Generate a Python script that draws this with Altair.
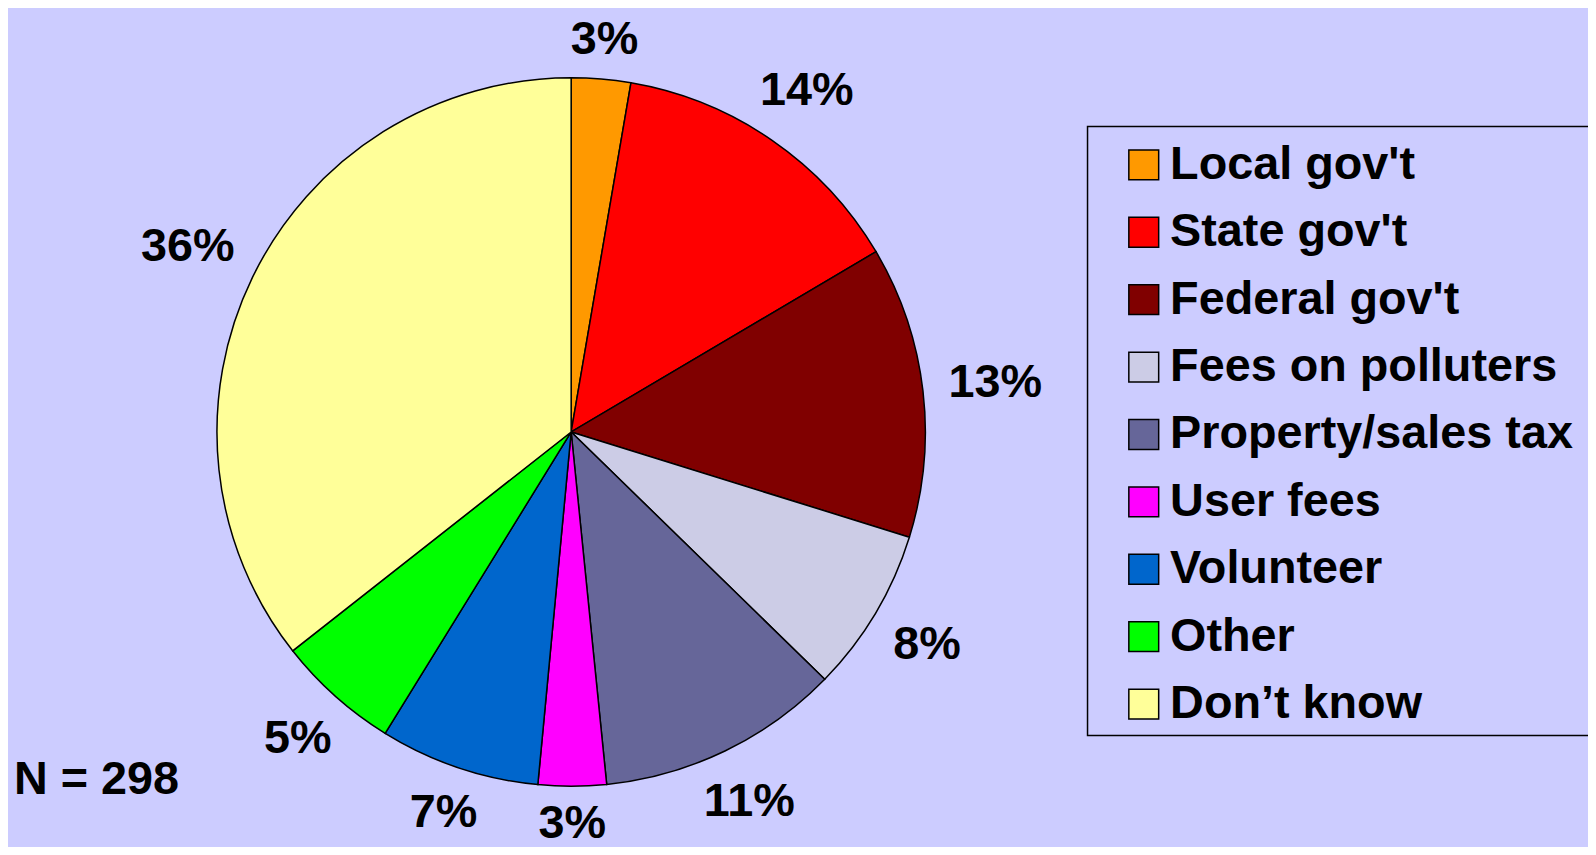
import altair as alt
import pandas as pd

categories = ["Local gov't", "State gov't", "Federal gov't", "Fees on polluters",
              "Property/sales tax", "User fees", "Volunteer", "Other", "Don\u2019t know"]
values = [2.7, 13.8, 13.3, 7.5, 11.1, 3.1, 7.3, 5.6, 35.6]
labels = ["3%", "14%", "13%", "8%", "11%", "3%", "7%", "5%", "36%"]
colors = ["#FF9900", "#FF0000", "#800000", "#CCCCE6", "#666699",
          "#FF00FF", "#0066CC", "#00FF00", "#FFFF99"]
n_text = "N = 298"

df = pd.DataFrame({"category": categories, "value": values,
                   "label": labels, "order": list(range(len(categories)))})

FONT = "Liberation Sans"
CX, CY, R = 566, 424, 356

color = alt.Color("category:N", sort=categories,
                  scale=alt.Scale(domain=categories, range=colors),
                  legend=alt.Legend(orient="none", legendX=1079, legendY=119, title=None,
                                    symbolType="square", symbolSize=900,
                                    symbolStrokeColor="black", symbolStrokeWidth=1.5,
                                    labelFontSize=47, labelFont=FONT, labelFontWeight="bold",
                                    labelColor="black", rowPadding=19.75, padding=13,
                                    symbolOffset=26, labelOffset=3, labelLimit=600))

base = alt.Chart(df)

pie = base.mark_arc(radius=R, stroke="black", strokeWidth=1.5).encode(
    theta=alt.Theta("value:Q", stack=True),
    color=color,
    order=alt.Order("order:Q"),
    x=alt.value(CX), y=alt.value(CY),
)

text = base.transform_joinaggregate(
    total="sum(value)"
).transform_window(
    cum="sum(value)", sort=[{"field": "order"}], frame=[None, 0]
).transform_calculate(
    mid="(datum.cum - datum.value/2) / datum.total * 2 * PI"
).transform_calculate(
    r="381 + (length(datum.label) < 3 ? 34 : 47) * abs(sin(datum.mid)) + 12 * abs(cos(datum.mid))"
).mark_text(font=FONT, fontSize=47, fontWeight="bold", color="black",
            align="center", baseline="middle", dy=1).encode(
    theta=alt.Theta("mid:Q", scale=None),
    radius=alt.Radius("r:Q", scale=None),
    text="label:N",
    x=alt.value(CX), y=alt.value(CY),
)

box = alt.Chart(alt.Data(values=[{}])).mark_rect(
    fill=None, fillOpacity=0, stroke="black", strokeWidth=1.5
).encode(x=alt.value(1085), x2=alt.value(1640), y=alt.value(117), y2=alt.value(729))

ntext = alt.Chart(alt.Data(values=[{"t": n_text}])).mark_text(
    font=FONT, fontSize=47, fontWeight="bold", color="black",
    align="left", baseline="alphabetic"
).encode(text="t:N", x=alt.value(6), y=alt.value(788))

chart = alt.layer(pie, text, box, ntext).properties(
    width=1588, height=839, background="#CCCCFF", padding=0,
    autosize=alt.AutoSizeParams(type="none")
).configure_view(stroke=None)

chart.save("out.html", embed_options={"renderer": "svg", "actions": False})
